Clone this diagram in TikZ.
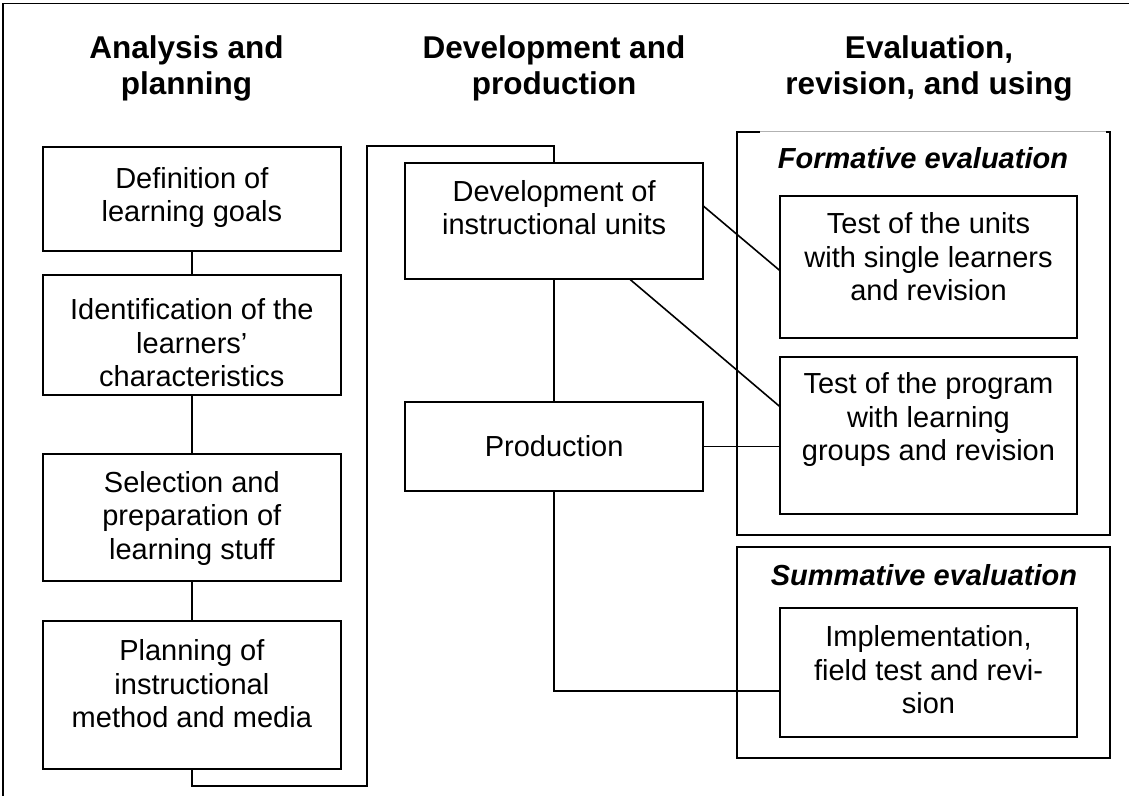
\documentclass[tikz,border=0pt]{standalone}
\usepackage{fontspec}
\setmainfont{Liberation Sans}
\usetikzlibrary{fit,calc}

% multi-line texts are placed by the baseline of their last line
\tikzset{
  box/.style={draw=black, line width=1.8pt, inner sep=0pt, outer sep=0pt},
  link/.style={draw=black, line width=1.6pt},
  body/.style={font=\fontsize{29}{33.5}\selectfont, align=center, inner sep=0pt, anchor=base},
  head/.style={font=\fontsize{31.5}{36.5}\selectfont\bfseries, align=center, inner sep=0pt, anchor=base},
  phase/.style={font=\fontsize{29}{33.5}\selectfont\bfseries\itshape, inner sep=0pt, anchor=base},
}

\begin{document}
\begin{tikzpicture}[x=1pt, y=-1pt]
\useasboundingbox (0,0) rectangle (1129,795);
\clip (0,0) rectangle (1129,795);

% outer frame (runs past the page on the right and bottom)
\draw[line width=1.8pt] (3.3,820) -- (3.3,3.5) -- (1150,3.5);

% column headings
\node[head] (hA) at (186.5,94.5) {Analysis and\\planning};
\node[head] (hD) at (554,94.5) {Development and\\production};
\node[head] (hE) at (929,94.5) {Evaluation,\\revision, and using};

% analysis and planning
\node[box, fit={(42.7,147.3) (341,250.7)}] (def) {};
\node[box, fit={(42.7,275) (341,395)}] (ident) {};
\node[box, fit={(42.7,454) (341,581)}] (sel) {};
\node[box, fit={(42.7,621) (341,769.3)}] (plan) {};
\node[body] (defT) at (191.85,221.5) {Definition of\\learning goals};
\node[body] (identT) at (191.85,386.5) {Identification of the\\learners’\\characteristics};
\node[body] (selT) at (191.85,559) {Selection and\\preparation of\\learning stuff};
\node[body] (planT) at (191.85,727.5) {Planning of\\instructional\\method and media};

% development and production
\node[box, fit={(405,163.3) (703.3,279.3)}] (dev) {};
\node[box, fit={(405,402.3) (703.3,491)}] (prod) {};
\node[body] (devT) at (554.15,234.5) {Development of\\instructional units};
\node[body] (prodT) at (554.15,456.5) {Production};

% formative evaluation frame
\node[fit={(737,131.7) (1110,535)}, inner sep=0pt, outer sep=0pt] (form) {};
\draw[line width=1.8pt] ($(form.north west)+(23,0)$) -| (form.south west) -| (form.north east) -- ++(-4,0);
\draw[gray!60, line width=0.8pt] ($(form.north west)+(23,0)$) -- ($(form.north east)+(-4,0)$);
\node[phase] (formT) at (923,168) {Formative evaluation};
\node[box, fit={(780,195.7) (1077,338)}] (tunits) {};
\node[box, fit={(780,356.7) (1077,514)}] (tprog) {};
\node[body] (tunitsT) at (928.5,300.8) {Test of the units\\with single learners\\and revision};
\node[body] (tprogT) at (928.5,460.8) {Test of the program\\with learning\\groups and revision};

% summative evaluation frame
\node[box, fit={(737,546.7) (1110,758)}] (summ) {};
\node[phase] (summT) at (924,585) {Summative evaluation};
\node[box, fit={(780,607.7) (1077,737.3)}] (impl) {};
\node[body] (implT) at (928.5,713.5) {Implementation,\\field test and revi-\\sion};

% connectors in the first column
\draw[link] (def.south) -- (ident.north);
\draw[link] (ident.south) -- (sel.north);
\draw[link] (sel.south) -- (plan.north);

% from planning over to development
\coordinate (bendL) at (367,786);
\coordinate (bendT) at (367,145.7);
\draw[link] (plan.south) |- (bendL) -- (bendT) -| (dev.north);

% development to production and evaluation
\draw[link] (dev.south) -- (prod.north);
\draw[link] ($(dev.north east)!0.368!(dev.south east)$) -- ($(tunits.north west)!0.527!(tunits.south west)$);
\draw[link] ($(dev.south west)!0.754!(dev.south east)$) -- ($(tprog.north west)!0.318!(tprog.south west)$);
\draw[link] (prod.east) -- (prod.east -| tprog.west);
\coordinate (implIn) at (780,691);
\draw[link] (prod.south) |- (implIn);
\end{tikzpicture}
\end{document}
